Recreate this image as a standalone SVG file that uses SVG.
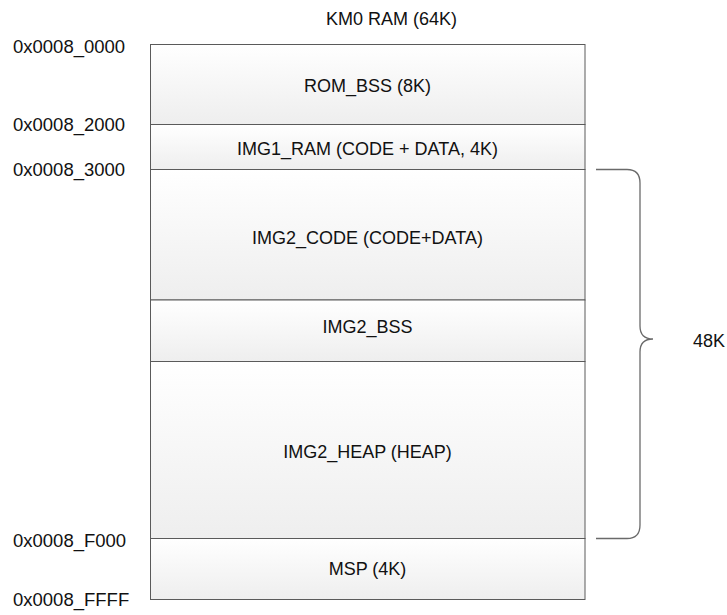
<svg xmlns="http://www.w3.org/2000/svg" width="727" height="615" viewBox="0 0 727 615">
<defs>
<linearGradient id="cellfill" x1="0" y1="0" x2="0" y2="1">
<stop offset="0" stop-color="#ffffff"/>
<stop offset="1" stop-color="#eeeeee"/>
</linearGradient>
<style>
text{font-family:"Liberation Sans",Arial,sans-serif;font-size:18px;fill:#111}
.c{text-anchor:middle}
.a{font-size:18.5px}
.cell{fill:url(#cellfill);stroke:#5a5a5a;stroke-width:1}
.brace{fill:none;stroke:#6a6a6a;stroke-width:1.3}
</style>
</defs>
<rect width="727" height="615" fill="#ffffff"/>
<text class="c" x="391.5" y="24.5">KM0 RAM (64K)</text>
<g id="addresses">
<text class="a" x="13" y="53">0x0008_0000</text>
<text class="a" x="13" y="130.5">0x0008_2000</text>
<text class="a" x="13" y="176">0x0008_3000</text>
<text class="a" x="13" y="546.5">0x0008_F000</text>
<text class="a" x="13" y="606">0x0008_FFFF</text>
</g>
<g id="rom_bss"><rect class="cell" x="150.5" y="44.5" width="434.5" height="80"/><text class="c" x="367.5" y="91.5">ROM_BSS (8K)</text></g>
<g id="img1_ram"><rect class="cell" x="150.5" y="124.5" width="434.5" height="45"/><text class="c" x="367.5" y="155">IMG1_RAM (CODE + DATA, 4K)</text></g>
<g id="img2_code"><rect class="cell" x="150.5" y="169.5" width="434.5" height="130.5"/><text class="c" x="367.5" y="244">IMG2_CODE (CODE+DATA)</text></g>
<g id="img2_bss"><rect class="cell" x="150.5" y="300" width="434.5" height="61.5"/><text class="c" x="367.5" y="333">IMG2_BSS</text></g>
<g id="img2_heap"><rect class="cell" x="150.5" y="361.5" width="434.5" height="177"/><text class="c" x="367.5" y="458">IMG2_HEAP (HEAP)</text></g>
<g id="msp"><rect class="cell" x="150.5" y="538.5" width="434.5" height="61"/><text class="c" x="367.5" y="575">MSP (4K)</text></g>
<g id="connectors">
<path class="brace" d="M596 169.5 H627 Q640 169.5 640 183 V326 Q640 339 653 339 Q640 339 640 352 V525 Q640 538.5 627 538.5 H596"/>
</g>
<g id="size48k"><text x="693" y="346.5">48K</text></g>
</svg>
